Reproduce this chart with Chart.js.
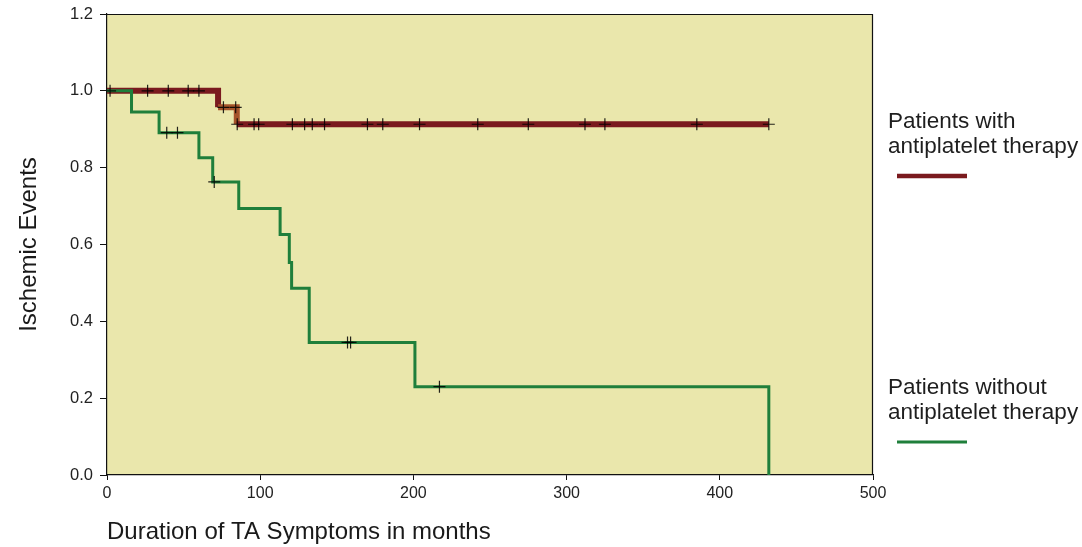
<!DOCTYPE html>
<html>
<head>
<meta charset="utf-8">
<script src="https://cdn.jsdelivr.net/npm/chart.js@4.4.1/dist/chart.umd.min.js"></script>
<style>
  html, body { margin: 0; padding: 0; background: #fff; }
  #wrap { position: relative; width: 1082px; height: 547px; }
</style>
</head>
<body>
<div id="wrap"><canvas id="kmChart" width="1082" height="547"></canvas></div>
<script>
// Kaplan-Meier curves (months, proportion free of events)
const withTimes = [0, 72.5, 84.7, 432];
const withSurv = [1.0, 0.957, 0.913, 0.913];
const withCensorTimes = [2, 26.5, 40, 53, 60, 76, 84, 85, 96, 99, 121, 129, 134, 142, 170, 180, 204, 242, 275, 312, 325, 385, 432];
const withCensorSurv = [1, 1, 1, 1, 1, 0.957, 0.957, 0.913, 0.913, 0.913, 0.913, 0.913, 0.913, 0.913, 0.913, 0.913, 0.913, 0.913, 0.913, 0.913, 0.913, 0.913, 0.913];

const withoutTimes = [0, 16, 34, 60, 69, 86, 113, 119, 120.5, 132, 201, 432];
const withoutSurv = [1.0, 0.945, 0.891, 0.826, 0.763, 0.694, 0.626, 0.553, 0.486, 0.345, 0.230, 0.0];
const withoutCensorTimes = [39, 46, 70, 157, 159, 217];
const withoutCensorSurv = [0.891, 0.891, 0.763, 0.345, 0.345, 0.230];

const seriesNames = [['Patients with', 'antiplatelet therapy'], ['Patients without', 'antiplatelet therapy']];
const xTicks = [0, 100, 200, 300, 400, 500];
const yTicks = [0.0, 0.2, 0.4, 0.6, 0.8, 1.0, 1.2];

const RED = '#7a1a1e';
const GREEN = '#1f7f3b';
const FONT = "'Liberation Sans', Arial, sans-serif";

function toPoints(xs, ys) {
  return xs.map((x, i) => ({ x: x, y: ys[i] }));
}

// Plot background and top/right frame
const plotFrame = {
  id: 'plotFrame',
  beforeDraw(chart) {
    const { ctx, chartArea: a } = chart;
    ctx.save();
    ctx.fillStyle = '#eae7ac';
    ctx.fillRect(a.left, a.top, a.right - a.left, a.bottom - a.top);
    ctx.restore();
  },
  afterDraw(chart) {
    const { ctx, chartArea: a } = chart;
    ctx.save();
    ctx.strokeStyle = '#111';
    ctx.lineWidth = 1.2;
    ctx.beginPath();
    ctx.moveTo(a.left, a.top + 0.5);
    ctx.lineTo(a.right - 0.5, a.top + 0.5);
    ctx.lineTo(a.right - 0.5, a.bottom);
    ctx.stroke();
    ctx.restore();
  }
};

// Legend drawn at the right side of the plot
const sideLegend = {
  id: 'sideLegend',
  afterDraw(chart) {
    const ctx = chart.ctx;
    const blocks = [
      { top: 128, color: RED, width: 4.5 },
      { top: 394, color: GREEN, width: 3 }
    ];
    ctx.save();
    ctx.font = '22.5px ' + FONT;
    ctx.fillStyle = '#1e1e1e';
    ctx.textBaseline = 'alphabetic';
    blocks.forEach((b, i) => {
      seriesNames[i].forEach((line, j) => {
        ctx.fillText(line, 888, b.top + j * 24.5);
      });
      ctx.strokeStyle = b.color;
      ctx.lineWidth = b.width;
      ctx.beginPath();
      ctx.moveTo(897, b.top + 48);
      ctx.lineTo(967, b.top + 48);
      ctx.stroke();
    });
    ctx.restore();
  }
};

const ctx = document.getElementById('kmChart');
new Chart(ctx, {
  type: 'line',
  data: {
    datasets: [
      {
        type: 'scatter',
        label: 'censored',
        data: toPoints(withCensorTimes, withCensorSurv).concat(toPoints(withoutCensorTimes, withoutCensorSurv)),
        pointStyle: 'cross',
        pointRadius: 6,
        borderColor: 'rgba(0,0,0,0.85)',
        borderWidth: 1.2,
        order: 0
      },
      {
        label: seriesNames[1].join(' '),
        data: toPoints(withoutTimes, withoutSurv),
        borderColor: GREEN,
        borderWidth: 3,
        stepped: true,
        pointRadius: 0,
        fill: false,
        order: 1
      },
      {
        label: seriesNames[0].join(' '),
        data: toPoints(withTimes, withSurv),
        borderColor: RED,
        borderWidth: 6,
        stepped: true,
        pointRadius: 0,
        fill: false,
        order: 2,
        segment: {
          borderColor: c => c.p0.parsed.y === withSurv[1] ? '#a5532a' : RED
        }
      }
    ]
  },
  options: {
    responsive: false,
    animation: false,
    layout: { padding: { top: 14, right: 209, left: 0, bottom: 0 } },
    plugins: {
      legend: { display: false },
      tooltip: { enabled: false }
    },
    scales: {
      x: {
        type: 'linear',
        min: 0,
        max: 500,
        afterBuildTicks: s => { s.ticks = xTicks.map(v => ({ value: v })); },
        afterFit: s => { s.height = 72; s.paddingLeft = 0; s.paddingRight = 0; },
        border: { display: true, color: '#111', width: 1.2 },
        grid: { drawOnChartArea: false, drawTicks: true, tickLength: 5, color: '#111' },
        ticks: { font: { family: FONT, size: 16 }, color: '#222', padding: 4, maxRotation: 0, autoSkip: false },
        title: {
          display: true,
          text: 'Duration of TA Symptoms in months',
          align: 'start',
          font: { family: FONT, size: 24 },
          color: '#1a1a1a',
          padding: { top: 0, bottom: 0 }
        }
      },
      y: {
        min: 0,
        max: 1.2,
        afterBuildTicks: s => { s.ticks = yTicks.map(v => ({ value: v })); },
        afterFit: s => { s.width = 107; s.paddingTop = 0; s.paddingBottom = 0; },
        border: { display: true, color: '#111', width: 1.2 },
        grid: { drawOnChartArea: false, drawTicks: true, tickLength: 7, color: '#111' },
        ticks: { font: { family: FONT, size: 16.5 }, color: '#222', padding: 7, autoSkip: false, callback: v => v.toFixed(1) },
        title: {
          display: true,
          text: 'Ischemic Events',
          font: { family: FONT, size: 24 },
          color: '#1a1a1a',
          padding: { top: 15, bottom: 0 }
        }
      }
    }
  },
  plugins: [plotFrame, sideLegend]
});
</script>
</body>
</html>
